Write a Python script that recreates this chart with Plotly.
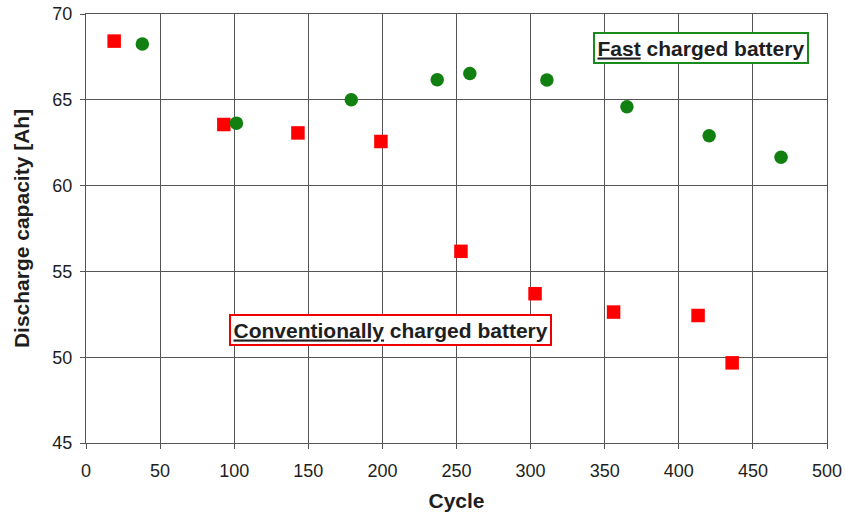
import plotly.graph_objects as go

conv_cycle = [19, 93, 143, 199, 253, 303, 356, 413, 436]
conv_cap = [68.42, 63.56, 63.07, 62.57, 56.17, 53.7, 52.63, 52.43, 49.67]

fast_cycle = [38, 101.5, 179, 237, 259, 311, 365, 420.5, 469]
fast_cap = [68.25, 63.64, 65.0, 66.17, 66.53, 66.15, 64.6, 62.9, 61.65]

x_ticks = [0, 50, 100, 150, 200, 250, 300, 350, 400, 450, 500]
y_ticks = [45, 50, 55, 60, 65, 70]

FONT = "Liberation Sans, Arial, Helvetica, sans-serif"
GRID = "#555555"
TXT = "#1e1e1e"

fig = go.Figure()
fig.add_trace(go.Scatter(x=conv_cycle, y=conv_cap, mode="markers",
                         marker=dict(symbol="square", size=13.5, color="#ff0000", line=dict(width=0)),
                         name="Conventionally charged battery", showlegend=False))
fig.add_trace(go.Scatter(x=fast_cycle, y=fast_cap, mode="markers",
                         marker=dict(symbol="circle", size=13.5, color="#118011", line=dict(width=0)),
                         name="Fast charged battery", showlegend=False))

fig.add_annotation(x=415.1, y=67.99, text="<b><u>Fast</u> charged battery</b>", showarrow=False,
                   font=dict(family=FONT, size=21, color=TXT),
                   bordercolor="#1a8a1a", borderwidth=2, borderpad=2.5, bgcolor="white")
fig.add_annotation(x=205.4, y=51.58, text="<b><u>Conventionally</u> charged battery</b>", showarrow=False,
                   font=dict(family=FONT, size=21, color=TXT),
                   bordercolor="#ee0000", borderwidth=2, borderpad=2.5, bgcolor="white")

fig.update_layout(
    width=845, height=512,
    margin=dict(l=86, r=18, t=14, b=69, autoexpand=False),
    paper_bgcolor="white", plot_bgcolor="white",
    font=dict(family=FONT, color=TXT),
    showlegend=False,
)
fig.update_xaxes(range=[0, 500], tickvals=x_ticks, ticktext=[str(v) for v in x_ticks],
                 automargin=False,
                 showgrid=True, gridcolor=GRID, gridwidth=1,
                 showline=True, linecolor=GRID, linewidth=1, mirror=True,
                 ticks="outside", ticklen=5, tickcolor=GRID, zeroline=False,
                 ticklabelstandoff=6,
                 tickfont=dict(family=FONT, size=18, color=TXT),
                 title=dict(text="<b>Cycle</b>", font=dict(family=FONT, size=21, color=TXT), standoff=13))
fig.update_yaxes(range=[45, 70], tickvals=y_ticks, ticktext=[str(v) for v in y_ticks],
                 automargin=False,
                 showgrid=True, gridcolor=GRID, gridwidth=1,
                 showline=True, linecolor=GRID, linewidth=1, mirror=True,
                 ticks="outside", ticklen=5, tickcolor=GRID, zeroline=False,
                 ticklabelstandoff=4,
                 tickfont=dict(family=FONT, size=18, color=TXT),
                 title=dict(text="<b>Discharge capacity [Ah]</b>", font=dict(family=FONT, size=21, color=TXT), standoff=17))

fig.write_html("out.html")
